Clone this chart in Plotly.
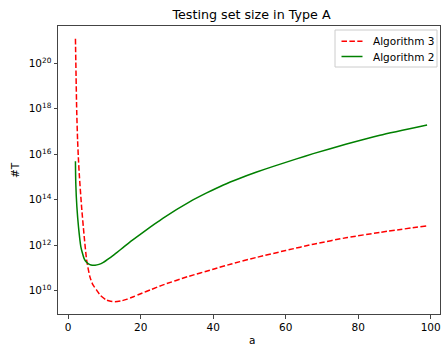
import plotly.graph_objects as go

# ---- data ----
a_alg3 = [2, 2.35, 2.6, 2.8, 3.05, 3.7, 4.35, 5.1, 6.0, 6.8, 7.85, 9.0, 10.6, 11.7, 12.9,
          14.5, 16.1, 18, 20, 23, 26, 33, 40, 45, 52, 60, 68, 77, 86, 99]
t_alg3 = [1.2e21, 8.5e17, 4.0e16, 7.6e15, 1.4e15, 4.8e13, 3.2e12, 2.2e11, 4.1e10, 1.86e10,
          1.07e10, 6.0e9, 3.9e9, 3.45e9, 3.3e9, 3.55e9, 4.2e9, 5.5e9, 7.4e9, 1.15e10,
          1.78e10, 4.2e10, 8.9e10, 1.51e11, 2.95e11, 5.9e11, 1.15e12, 2.19e12, 3.7e12, 7.2e12]

a_alg2 = [2, 2.1, 2.4, 2.85, 3.5, 3.9, 4.4, 5.0, 6.0, 6.7, 7.4, 8.5, 9.7, 11.5, 13.4, 15.2,
          17.0, 19.8, 23, 26.2, 33.6, 38.2, 42.8, 47.4, 52.0, 56.6, 63.0, 67.6, 76.8, 86.0, 99]
t_alg2 = [4.9e15, 5.1e14, 4.8e13, 6.3e12, 8.5e11, 4.7e11, 2.6e11, 1.86e11, 1.41e11, 1.33e11,
          1.32e11, 1.45e11, 1.78e11, 2.8e11, 4.8e11, 8.1e11, 1.38e12, 2.95e12, 6.9e12, 1.58e13,
          8.3e13, 2.0e14, 4.5e14, 8.9e14, 1.66e15, 2.95e15, 6.3e15, 1.07e16, 2.82e16,
          6.9e16, 1.95e17]

x_ticks = [0, 20, 40, 60, 80, 100]
y_tickvals = [1e10, 1e12, 1e14, 1e16, 1e18, 1e20]
y_ticktext = ["10<sup>10</sup>", "10<sup>12</sup>", "10<sup>14</sup>", "10<sup>16</sup>",
              "10<sup>18</sup>", "10<sup>20</sup>"]

title = "Testing set size in Type A"
series_names = ["Algorithm 3", "Algorithm 2"]
x_label = "a"
y_label = "#T"

# ---- layout geometry ----
W, H = 441, 345
L, R, T, B = 58, 440, 26, 314
FONT = "DejaVu Sans"
RED = "#ff0000"
GREEN = "#008000"
DASH = "5.5px,2.4px"


def px(x):
    return (x - L) / (R - L)


def py(y):
    return (B - y) / (B - T)


fig = go.Figure()
fig.add_trace(go.Scatter(x=a_alg3, y=t_alg3, mode="lines", name=series_names[0],
                         line=dict(color=RED, width=1.5, dash=DASH, shape="spline", smoothing=0.6)))
fig.add_trace(go.Scatter(x=a_alg2, y=t_alg2, mode="lines", name=series_names[1],
                         line=dict(color=GREEN, width=1.5, shape="spline", smoothing=0.6)))

axis_common = dict(showline=True, mirror=True, linecolor="#444", linewidth=1,
                   ticks="outside", ticklen=3.5, tickwidth=1, tickcolor="#444",
                   showgrid=False, zeroline=False,
                   tickfont=dict(family=FONT, size=10.5, color="black"))

fig.update_xaxes(range=[-2.81, 102.57], tickvals=x_ticks, **axis_common)
fig.update_yaxes(type="log", range=[8.98, 21.64], tickvals=y_tickvals, ticktext=y_ticktext,
                 **axis_common)

# manual legend (matplotlib style)
lx0, lx1, ly0, ly1 = 335, 437, 30, 67
shapes = [
    dict(type="rect", xref="paper", yref="paper", x0=px(lx0), x1=px(lx1), y0=py(ly1), y1=py(ly0),
         line=dict(color="#cccccc", width=1), fillcolor="rgba(255,255,255,0.8)", layer="above"),
    dict(type="line", xref="paper", yref="paper", x0=px(341.5), x1=px(362.5), y0=py(41.3), y1=py(41.3),
         line=dict(color=RED, width=1.5, dash=DASH), layer="above"),
    dict(type="line", xref="paper", yref="paper", x0=px(341.5), x1=px(362.5), y0=py(56.5), y1=py(56.5),
         line=dict(color=GREEN, width=1.5), layer="above"),
]

annotations = [
    dict(text=series_names[0], xref="paper", yref="paper", x=px(371), y=py(41.3),
         xanchor="left", yanchor="middle", showarrow=False,
         font=dict(family=FONT, size=10.5, color="black")),
    dict(text=series_names[1], xref="paper", yref="paper", x=px(371), y=py(56.8),
         xanchor="left", yanchor="middle", showarrow=False,
         font=dict(family=FONT, size=10.5, color="black")),
    dict(text=y_label, xref="paper", yref="paper", x=px(15), y=0.5, textangle=-90,
         xanchor="center", yanchor="middle", showarrow=False,
         font=dict(family=FONT, size=10.5, color="black")),
    dict(text=x_label, xref="paper", yref="paper", x=px(251.5), y=py(339.5),
         xanchor="center", yanchor="middle", showarrow=False,
         font=dict(family=FONT, size=10.5, color="black")),
]

fig.update_layout(
    width=W, height=H,
    margin=dict(l=L, r=W - R, t=T, b=H - B, pad=0),
    paper_bgcolor="white", plot_bgcolor="white",
    showlegend=False,
    title=dict(text=title, x=px(251.5), xref="paper", xanchor="center",
               y=1 - 15 / H, yref="container", yanchor="middle",
               font=dict(family=FONT, size=12.7, color="black")),
    shapes=shapes, annotations=annotations,
)

fig.write_html("out.html", config={"displayModeBar": False},
               post_script="document.body.style.margin='0px';document.body.style.overflow='hidden';")
